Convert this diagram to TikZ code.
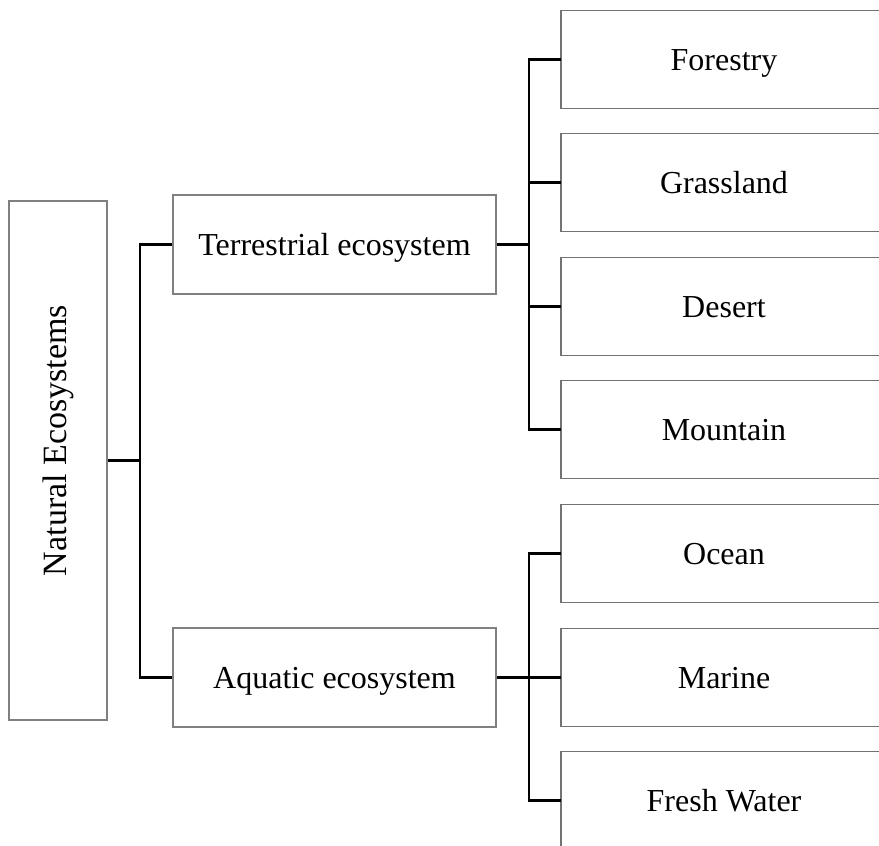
\documentclass[tikz,border=0pt]{standalone}
\usepackage{fontspec}
\setmainfont{Liberation Serif}
\usepackage{graphicx}
\begin{document}
\begin{tikzpicture}[x=1pt,y=-1pt,
  box/.style={draw=black!50, line width=1.2pt, inner sep=0pt,
    font=\fontsize{32}{38}\selectfont, text height=21pt, text depth=0pt},
  leaf/.style={inner sep=0pt, outer sep=0pt, font=\fontsize{32}{38}\selectfont, text height=21pt, text depth=0pt,
    minimum width=326pt, minimum height=98pt},
  edge/.style={draw=black!55, line width=1.5pt},
  conn/.style={draw=black, line width=2.4pt}]
\useasboundingbox (0,0) rectangle (879,846);
\node[draw=black!50, line width=1.2pt, inner sep=0pt, minimum width=98pt, minimum height=519pt,
  font=\fontsize{34}{40}\selectfont] (root) at (58,460.5) {\rotatebox{90}{\hspace*{40pt}Natural Ecosystems}};
\node[box, minimum width=323pt, minimum height=99pt] (terr) at (334.5,244.5) {Terrestrial ecosystem};
\node[box, minimum width=323pt, minimum height=99pt] (aqua) at (334.5,677.5) {Aquatic ecosystem};
\node[leaf] (f) at (724,59.5) {Forestry};
\node[leaf] (g) at (724,182.5) {Grassland};
\node[leaf] (d) at (724,306.5) {Desert};
\node[leaf] (m) at (724,429.5) {Mountain};
\node[leaf] (o) at (724,553.5) {Ocean};
\node[leaf] (ma) at (724,677.5) {Marine};
\node[leaf] (fw) at (724,800.5) {Fresh Water};
\foreach \n in {f,g,d,m,o,ma}
  \draw[edge] (\n.north -| 879,0) -- (\n.north west) -- (\n.south west) -- (\n.south -| 879,0);
\draw[edge] (fw.north -| 879,0) -- (fw.north west) -- (fw.south west |- 0,846);
\coordinate (j1) at (140,460.5);
\coordinate (j2) at (529,244.5);
\coordinate (j3) at (529,677.5);
\draw[conn] (root.east) -- (j1);
\draw[conn] (terr.west) -| (j1) |- (aqua.west);
\draw[conn] (terr.east) -- (j2);
\draw[conn] (f.west) -| (j2) |- (m.west);
\draw[conn] (g.west) -- (g.west -| j2);
\draw[conn] (d.west) -- (d.west -| j2);
\draw[conn] (aqua.east) -- (j3);
\draw[conn] (o.west) -| (j3) |- (fw.west);
\draw[conn] (ma.west) -- (ma.west -| j3);
\end{tikzpicture}
\end{document}
